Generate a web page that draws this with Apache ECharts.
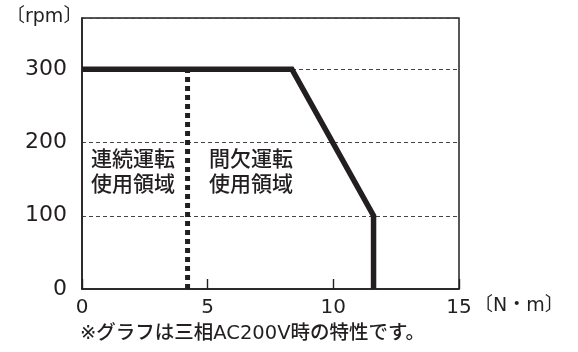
<!DOCTYPE html>
<html>
<head>
<meta charset="utf-8">
<script src="https://cdn.jsdelivr.net/npm/echarts@6/dist/echarts.min.js"></script>
<style>
  html, body { margin: 0; padding: 0; background: #fff; }
  #chart { width: 578px; height: 352px; }
</style>
</head>
<body>
<div id="chart"></div>
<script>
// speed-torque characteristic
const xTicks = [0, 5, 10, 15];
const yTicks = [0, 100, 200, 300];
const torqueCurve = [[0, 300], [8.35, 300], [11.6, 100], [11.6, 0]];
const continuousLimit = [[4.2, 0], [4.2, 300]];
const regionLabels = ['連続運転\n使用領域', '間欠運転\n使用領域'];
const footnote = '※グラフは三相AC200V時の特性です。';

const FONT = '"DejaVu Sans", "Noto Sans CJK JP", sans-serif';
const INK = '#231f20';

const chart = echarts.init(document.getElementById('chart'), null, { renderer: 'canvas' });

chart.setOption({
  animation: false,
  grid: { left: 82, right: 119, top: 18, bottom: 63, show: true, borderColor: INK, borderWidth: 1.5 },
  xAxis: {
    type: 'value', min: 0, max: 15, interval: 5,
    axisLine: { lineStyle: { color: INK, width: 1.5 } },
    // short inward ticks; the ones at 0 and 15 sit on the frame
    axisTick: { show: true, inside: true, length: 10, lineStyle: { color: INK, width: 1.4 } },
    splitLine: { show: false },
    axisLabel: { color: INK, fontSize: 20, fontFamily: FONT, margin: 9,
      formatter: v => xTicks.includes(v) ? String(v) : '' },
  },
  yAxis: {
    type: 'value', min: 0, max: 370, interval: 100,
    axisLine: { show: true, lineStyle: { color: INK, width: 1.5 } },
    axisTick: { show: false },
    splitLine: { show: true, lineStyle: { color: '#444', width: 1, type: [4, 3] } },
    axisLabel: { color: INK, fontSize: 22, fontFamily: FONT, margin: 15,
      formatter: v => yTicks.includes(v) ? String(v) : '' },
  },
  series: [
    {
      type: 'line', data: continuousLimit, symbol: 'none', z: 3,
      lineStyle: { color: INK, width: 5, type: [5, 4], cap: 'butt' },
    },
    {
      type: 'line', data: torqueCurve, symbol: 'none', z: 4,
      lineStyle: { color: INK, width: 5.5, join: 'miter', cap: 'butt' },
    },
  ],
  graphic: [
    { type: 'text', left: 6, top: 8, style: { text: '〔rpm〕', fontSize: 19, fontFamily: FONT, fill: INK } },
    { type: 'text', left: 474, top: 297, style: { text: '〔N・m〕', fontSize: 19, fontFamily: FONT, fill: INK } },
    { type: 'text', left: 91, top: 148, style: { text: regionLabels[0], fontSize: 21, lineHeight: 25, fontFamily: FONT, fontWeight: 500, fill: INK } },
    { type: 'text', left: 209, top: 148, style: { text: regionLabels[1], fontSize: 21, lineHeight: 25, fontFamily: FONT, fontWeight: 500, fill: INK } },
    { type: 'text', left: 80, top: 324, style: { text: footnote, fontSize: 19.5, fontFamily: FONT, fontWeight: 500, fill: INK } },
  ],
});
</script>
</body>
</html>
